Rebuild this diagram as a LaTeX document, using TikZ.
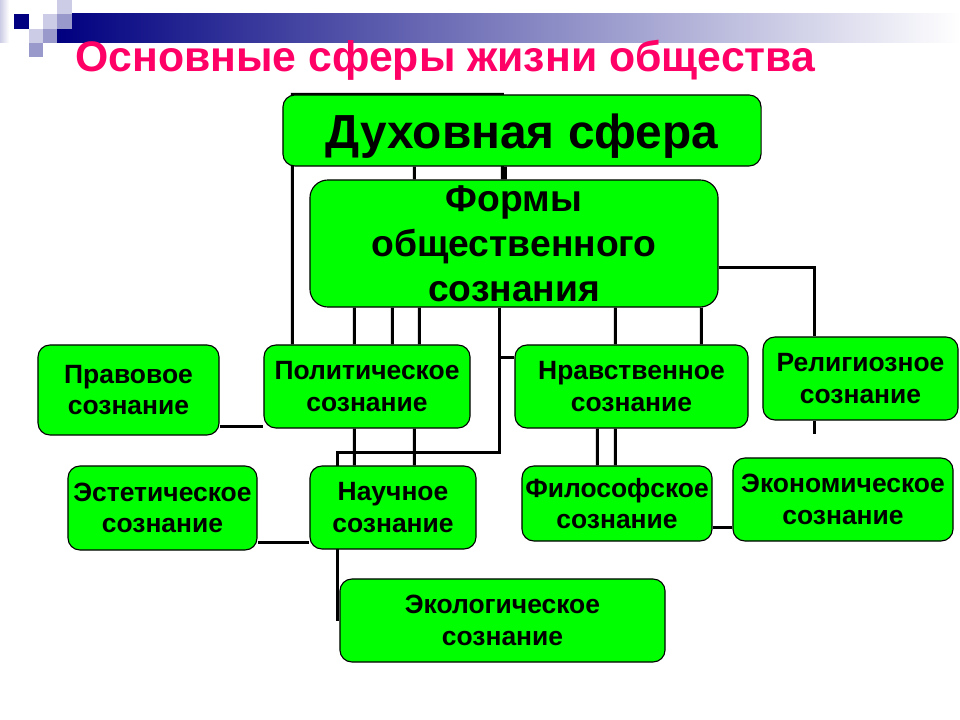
\documentclass[tikz,border=0pt]{standalone}
\usepackage{fontspec}
\setmainfont{Liberation Sans}
\usetikzlibrary{positioning,calc,backgrounds}
\definecolor{leaf}{RGB}{0,255,0}
\definecolor{navyblue}{RGB}{0,0,128}
\definecolor{lilac1}{RGB}{204,204,230}
\definecolor{lilac2}{RGB}{153,153,204}
\definecolor{rose}{RGB}{255,0,102}
\tikzstyle{sphere}=[draw, line width=0.8pt, fill=leaf, rounded corners=0.3cm, inner sep=0pt, align=center, font=\bfseries\fontsize{34}{40}\selectfont]
\tikzstyle{forms}=[draw, line width=0.8pt, fill=leaf, rounded corners=0.45cm, inner sep=0pt, align=center, font=\bfseries\fontsize{26.5}{32}\selectfont]
\tikzstyle{cons}=[draw, line width=0.8pt, fill=leaf, rounded corners=0.3cm, inner sep=0pt, align=center, font=\bfseries\fontsize{18.8}{22.4}\selectfont]
\tikzstyle{link}=[line width=2.1pt]

\begin{document}
\begin{tikzpicture}[x=0.025cm,y=-0.025cm]
		    \useasboundingbox (0,0) rectangle (960,720);
		    % corner pattern and bar
		    \shade[left color=lilac1, right color=white] (0,0) rectangle (9,43);
		    \shade[left color=navyblue, right color=white] (57,14) rectangle (960,43);
		    \fill[lilac1] (57,0) rectangle (72,14);
		    \fill[navyblue] (14,14) rectangle (29,29);
		    \fill[lilac1] (43,14) rectangle (57,29);
		    \fill[lilac2] (57,14) rectangle (72,29);
		    \fill[lilac1] (29,29) rectangle (43,43);
		    \fill[lilac2] (43,29) rectangle (57,43);
		    \fill[lilac2] (29,43) rectangle (43,57);
		    \node[anchor=base west, inner sep=0pt, text=rose, font=\bfseries\fontsize{30.4}{36}\selectfont] (head) at (75,72) {Основные сферы жизни общества};
		    % boxes
		    \node[sphere, minimum width=11.95cm, minimum height=1.775cm] (duh) at (522,130.5) {\raisebox{-0.15cm}[\height][\depth]{Духовная сфера}};
		    \node[forms, minimum width=10.2cm, minimum height=3.175cm] (form) at (514,243.5) {Формы\\общественного\\сознания};
		    \node[cons, minimum width=4.525cm, minimum height=2.25cm] (prav) at (128.5,390) {Правовое\\сознание};
		    \node[cons, minimum width=5.15cm, minimum height=2.075cm] (pol) at (367,386.5) {Политическое\\сознание};
		    \node[cons, minimum width=5.825cm, minimum height=2.075cm] (nrav) at (631.5,386.5) {Нравственное\\сознание};
		    \node[cons, minimum width=4.875cm, minimum height=2.075cm] (rel) at (860.5,378.5) {Религиозное\\сознание};
		    \node[cons, minimum width=4.725cm, minimum height=2.1cm] (est) at (162.5,508) {Эстетическое\\сознание};
		    \node[cons, minimum width=4.15cm, minimum height=2.075cm] (nauch) at (393,507.5) {Научное\\сознание};
		    \node[cons, minimum width=4.75cm, minimum height=1.875cm] (fil) at (617,503.5) {Философское\\сознание};
		    \node[cons, minimum width=5.5cm, minimum height=2.075cm] (econ) at (843,499.5) {Экономическое\\сознание};
		    \node[cons, minimum width=8.125cm, minimum height=2.075cm] (ecol) at (502.5,620.5) {Экологическое\\сознание};
		    % connectors behind the boxes
		    \begin{scope}[on background layer]
		    \coordinate (knot) at ($(nauch.north west)+(28,-13)$);
		    \draw[link] ($(pol.north west)+(29,0)$) |- ($(duh.north west)+(220,0)$) -- ($(form.north west)+(193,0)$);
		    \draw[link] ($(duh.south west)+(132,0)$) -- ($(form.north west)+(105,0)$);
		    \draw[link] ($(duh.south west)+(223,0)$) -- ($(form.north west)+(196,0)$);
		    \draw[link] ($(form.south west)+(45,0)$) -- ($(pol.north west)+(91,0)$);
		    \draw[link] ($(form.south west)+(83,0)$) -- ($(pol.north west)+(129,0)$);
		    \draw[link] ($(form.south west)+(110,0)$) -- ($(pol.north west)+(156,0)$);
		    \draw[link] ($(form.south west)+(306,0)$) -- ($(nrav.north west)+(101,0)$);
		    \draw[link] ($(form.south west)+(392,0)$) -- ($(nrav.north west)+(187,0)$);
		    \draw[link] ($(form.south west)+(190,0)$) |- ($(nrav.north west)+(0,13)$);
		    \draw[link] ($(form.south west)+(190,0)$) |- (knot) -- (knot |- ecol.west);
		    \draw[link] ($(form.north east)+(0,88)$) -| ($(rel.north west)+(52,0)$);
		    \draw[link] ($(rel.south west)+(52,0)$) -- ++(0,13);
		    \draw[link] ($(pol.south west)+(91,0)$) -- ($(nauch.north west)+(45,0)$);
		    \draw[link] ($(pol.south west)+(151,0)$) -- ($(nauch.north west)+(105,0)$);
		    \draw[link] ($(nrav.south west)+(83,0)$) -- ($(fil.north west)+(76,0)$);
		    \draw[link] ($(nrav.south west)+(101,0)$) -- ($(fil.north west)+(94,0)$);
		    \draw[link] ($(prav.south east)+(0,-9)$) coordinate (p1) -- (p1 -| pol.west);
		    \draw[link] ($(est.south east)+(0,-8)$) coordinate (p2) -- (p2 -| nauch.west);
		    \draw[link] ($(fil.south east)+(0,-14)$) coordinate (p3) -- (p3 -| econ.west);
		    \end{scope}
		\end{tikzpicture}
\end{document}
